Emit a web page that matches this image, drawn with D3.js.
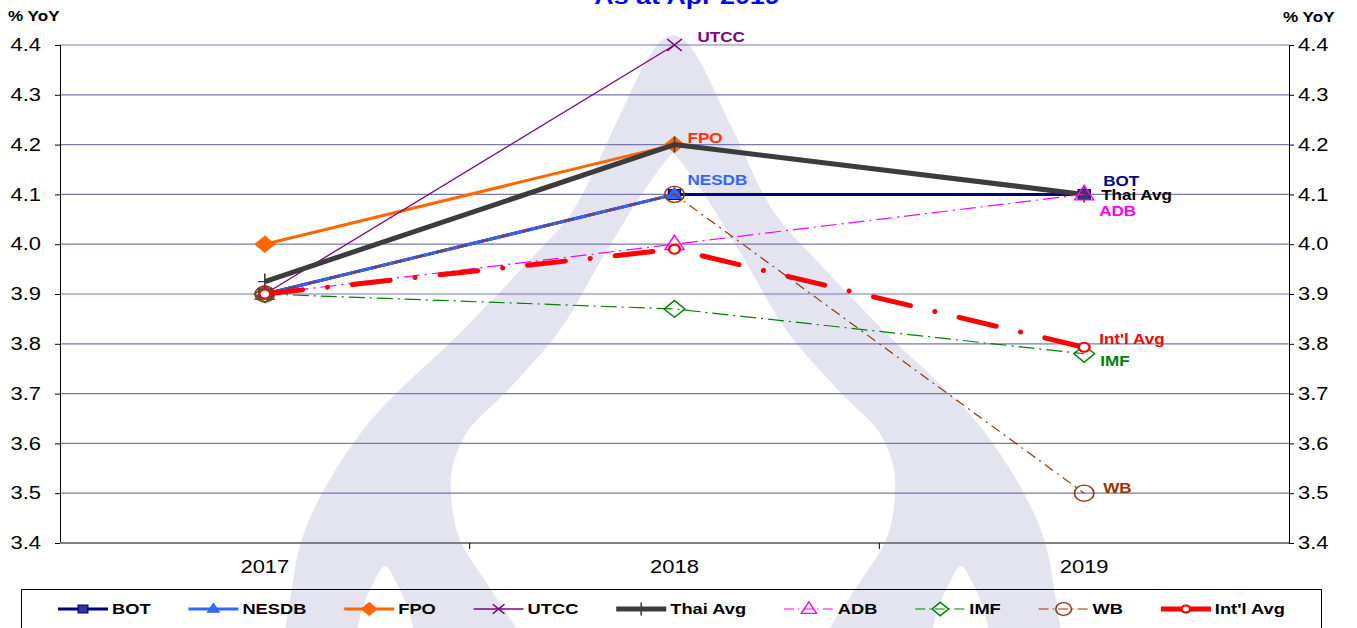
<!DOCTYPE html>
<html>
<head>
<meta charset="utf-8">
<script src="https://cdn.jsdelivr.net/npm/d3@7"></script>
<style>
  body { margin: 0; background: #fff; }
  svg { display: block; font-family: Arial, "Liberation Sans", sans-serif; }
</style>
</head>
<body>
<svg id="chart"></svg>
<script>
const years = ["2017", "2018", "2019"];
const yTicks = [3.4, 3.5, 3.6, 3.7, 3.8, 3.9, 4.0, 4.1, 4.2, 4.3, 4.4];

const bot = [3.9, 4.1, 4.1];
const nesdb = [3.9, 4.1, null];
const fpo = [4.0, 4.2, null];
const utcc = [3.9, 4.4, null];
const thaiAvg = [3.925, 4.2, 4.1];
const adb = [3.9, 4.0, 4.1];
const imf = [3.9, 3.87, 3.78];
const wb = [3.9, 4.1, 3.5];
const intlAvg = [3.9, 3.99, 3.793];

const seriesNames = ["BOT", "NESDB", "FPO", "UTCC", "Thai Avg", "ADB", "IMF", "WB", "Int'l Avg"];
const seriesValues = [bot, nesdb, fpo, utcc, thaiAvg, adb, imf, wb, intlAvg];

// styling per series (same order as seriesNames)
const styles = [
  { color: "#000080", width: 3, dash: null, marker: "square", fill: "#333399", labelColor: "#000080", at: 2, dx: 19, dy: -13 },
  { color: "#3366ff", width: 3, dash: null, marker: "triangle", fill: "#3366ff", labelColor: "#3366ff", at: 1, dx: 13, dy: -14 },
  { color: "#ff6600", width: 3, dash: null, marker: "diamond", fill: "#ff6600", labelColor: "#ff3300", at: 1, dx: 13, dy: -7 },
  { color: "#800080", width: 1.3, dash: null, marker: "x", fill: "none", labelColor: "#800080", at: 1, dx: 23, dy: -8 },
  { color: "#3c3c3c", width: 5, dash: null, marker: "plus", fill: "none", labelColor: "#000000", at: 2, dx: 17, dy: 1 },
  { color: "#ff00ff", width: 1.2, dash: "16,5,2,5", marker: "openTriangle", fill: "none", labelColor: "#ff00ff", at: 2, dx: 15, dy: 17 },
  { color: "#008000", width: 1.2, dash: "16,5,2,5", marker: "openDiamond", fill: "none", labelColor: "#008000", at: 2, dx: 16, dy: 7 },
  { color: "#993300", width: 1.2, dash: "10,5,2,5", marker: "circle", fill: "none", labelColor: "#993300", at: 2, dx: 19, dy: -5 },
  { color: "#ff0000", width: 5, dash: "38,25,0.1,25", marker: "smallCircle", fill: "#ffffff", labelColor: "#ff0000", at: 2, dx: 15, dy: -8 }
];

const W = 1357, H = 628, SX = 1.22;
const svg = d3.select("#chart").attr("width", W).attr("height", H);

const x = d3.scaleBand().domain(years).range([60, 1289]);
const cx = (d) => x(d) + x.bandwidth() / 2;
const y = d3.scaleLinear().domain([3.4, 4.4]).range([543, 45]);

// watermark logo in the background
const mid = 673;
const outerL = [[281, 660], [290, 600], [305, 530], [363, 430], [463, 330], [527, 263], [572, 212], [613, 130], [648, 58], [662, 40], [673, 35]];
const innerL = [[673, 153], [664, 163], [640, 197], [600, 262], [560, 330], [505, 393], [467, 432], [452, 470], [452, 505], [460, 540], [488, 585], [523, 640], [530, 660]];
const notch = [[352, 660], [362, 610], [374, 582], [385, 566], [396, 582], [410, 615], [418, 660]];
const mirror = (pts) => pts.map(([a, b]) => [2 * mid - a, b]);
const wm = d3.line().curve(d3.curveCatmullRom);
const wmG = svg.append("g");
wmG.append("path")
  .attr("d", wm(outerL.concat(mirror(outerL).reverse().slice(1))) + "Z")
  .attr("fill", "#e4e4f1");
wmG.append("path")
  .attr("d", wm(innerL.concat(mirror(innerL).reverse())) + "Z")
  .attr("fill", "#ffffff");
[notch, mirror(notch)].forEach((n) => {
  wmG.append("path").attr("d", wm(n) + "Z").attr("fill", "#ffffff");
});

// text helper with the slight horizontal stretch of the original
const txt = (g, str, tx, ty, opts) => g.append("text")
  .attr("transform", `translate(${tx},${ty}) scale(${SX},1)`)
  .attr("dominant-baseline", "central")
  .attr("text-anchor", opts.anchor || "start")
  .attr("font-size", opts.size)
  .attr("font-weight", opts.bold ? "bold" : "normal")
  .attr("fill", opts.color || "#000")
  .text(str);

// gridlines
svg.append("g").selectAll("line")
  .data(yTicks.slice(1))
  .enter()
  .append("line")
  .attr("x1", 60).attr("x2", 1289)
  .attr("y1", (d) => y(d)).attr("y2", (d) => y(d))
  .attr("stroke", "#7777b2")
  .attr("stroke-width", 1.2);

// axes
const leftAxis = svg.append("g").attr("transform", "translate(60,0)")
  .call(d3.axisLeft(y).tickValues(yTicks).tickSize(5).tickFormat(""));
const rightAxis = svg.append("g").attr("transform", "translate(1289,0)")
  .call(d3.axisRight(y).tickValues(yTicks).tickSize(5).tickFormat(""));
[leftAxis, rightAxis].forEach((a) => {
  a.select(".domain").attr("stroke", "#000").attr("stroke-width", 1);
  a.selectAll(".tick line").attr("stroke", "#000");
});
yTicks.forEach((t) => {
  txt(svg, t.toFixed(1), 41, y(t), { anchor: "end", size: 18 });
  txt(svg, t.toFixed(1), 1298, y(t), { size: 18 });
});

svg.append("line").attr("x1", 60).attr("x2", 1289).attr("y1", 543).attr("y2", 543)
  .attr("stroke", "#808080").attr("stroke-width", 2);
svg.append("g").selectAll("line")
  .data(years.slice(1))
  .enter()
  .append("line")
  .attr("x1", (d) => x(d)).attr("x2", (d) => x(d))
  .attr("y1", 543).attr("y2", 549)
  .attr("stroke", "#000");
years.forEach((yr) => txt(svg, yr, cx(yr), 567, { anchor: "middle", size: 18 }));

txt(svg, "% YoY", 8, 16, { size: 14, bold: true });
txt(svg, "% YoY", 1283, 17, { size: 14, bold: true });
// title sits partly above the top edge, as in the original
svg.append("text")
  .attr("transform", `translate(687,4) scale(${SX},1)`)
  .attr("text-anchor", "middle")
  .attr("font-size", 22).attr("font-weight", "bold").attr("fill", "#0000ff")
  .text("As at Apr 2019");

// marker shapes
const markerPath = (type, k) => {
  const s = k || 1;
  switch (type) {
    case "square": { const r = 5 * s; return `M${-r},${-r}H${r}V${r}H${-r}Z`; }
    case "triangle": { const r = 7 * s; return `M0,${-r}L${r * 0.87},${r * 0.6}L${-r * 0.87},${r * 0.6}Z`; }
    case "diamond": { const r = 8 * s; return `M0,${-r}L${r},0L0,${r}L${-r},0Z`; }
    case "x": { const r = 6 * s; return `M${-r},${-r}L${r},${r}M${-r},${r}L${r},${-r}`; }
    case "plus": { const r = 8 * s; return `M0,${-r}V${r}M${-r * 0.7},0H${r * 0.7}`; }
    case "openTriangle": { const r = 9 * s; return `M0,${-r}L${r * 0.87},${r * 0.6}L${-r * 0.87},${r * 0.6}Z`; }
    case "openDiamond": { const r = 8.5 * s; return `M0,${-r}L${r},0L0,${r}L${-r},0Z`; }
    case "circle": return d3.symbol(d3.symbolCircle, Math.PI * 64 * s * s)();
    case "smallCircle": return d3.symbol(d3.symbolCircle, Math.PI * 20 * s * s)();
  }
};
const drawMarker = (g, st, px, py, k) => {
  const filled = ["square", "triangle", "diamond"].includes(st.marker);
  g.append("path")
    .attr("d", markerPath(st.marker, k))
    .attr("transform", `translate(${px},${py}) scale(${SX},1)`)
    .attr("fill", st.fill)
    .attr("stroke", st.color)
    .attr("stroke-width", filled ? 1 : (st.marker === "smallCircle" ? 2 : 1.3));
};

// series lines, markers and end labels
const line = d3.line()
  .defined((d) => d.v !== null)
  .x((d) => cx(d.year))
  .y((d) => y(d.v));

seriesValues.forEach((vals, i) => {
  const st = styles[i];
  const pts = vals.map((v, j) => ({ year: years[j], v: v }));
  const g = svg.append("g");
  g.append("path")
    .datum(pts)
    .attr("d", line)
    .attr("fill", "none")
    .attr("stroke", st.color)
    .attr("stroke-width", st.width)
    .attr("stroke-dasharray", st.dash)
    .attr("stroke-linecap", st.dash && st.width > 3 ? "round" : "butt")
    .attr("stroke-linejoin", "round");
  pts.filter((d) => d.v !== null).forEach((d) => drawMarker(g, st, cx(d.year), y(d.v)));
  const lp = pts[st.at];
  txt(g, seriesNames[i], cx(lp.year) + st.dx, y(lp.v) + st.dy, { size: 14, bold: true, color: st.labelColor });
});

// legend
const legend = svg.append("g");
legend.append("rect")
  .attr("x", 21.5).attr("y", 589.5).attr("width", 1300).attr("height", 60)
  .attr("fill", "none").attr("stroke", "#000").attr("stroke-width", 1);
let lx = 58;
const ly = 609;
seriesNames.forEach((name, i) => {
  const st = styles[i];
  legend.append("line")
    .attr("x1", lx).attr("x2", lx + 50).attr("y1", ly).attr("y2", ly)
    .attr("stroke", st.color)
    .attr("stroke-width", st.width)
    .attr("stroke-dasharray", st.dash ? (st.width > 3 ? null : "10,4,1.5,4") : null);
  drawMarker(legend, st, lx + 25, ly, 0.8);
  const t = txt(legend, name, lx + 54, ly, { size: 15, bold: true });
  lx += 54 + t.node().getComputedTextLength() * SX + 37.8;
});
</script>
</body>
</html>
